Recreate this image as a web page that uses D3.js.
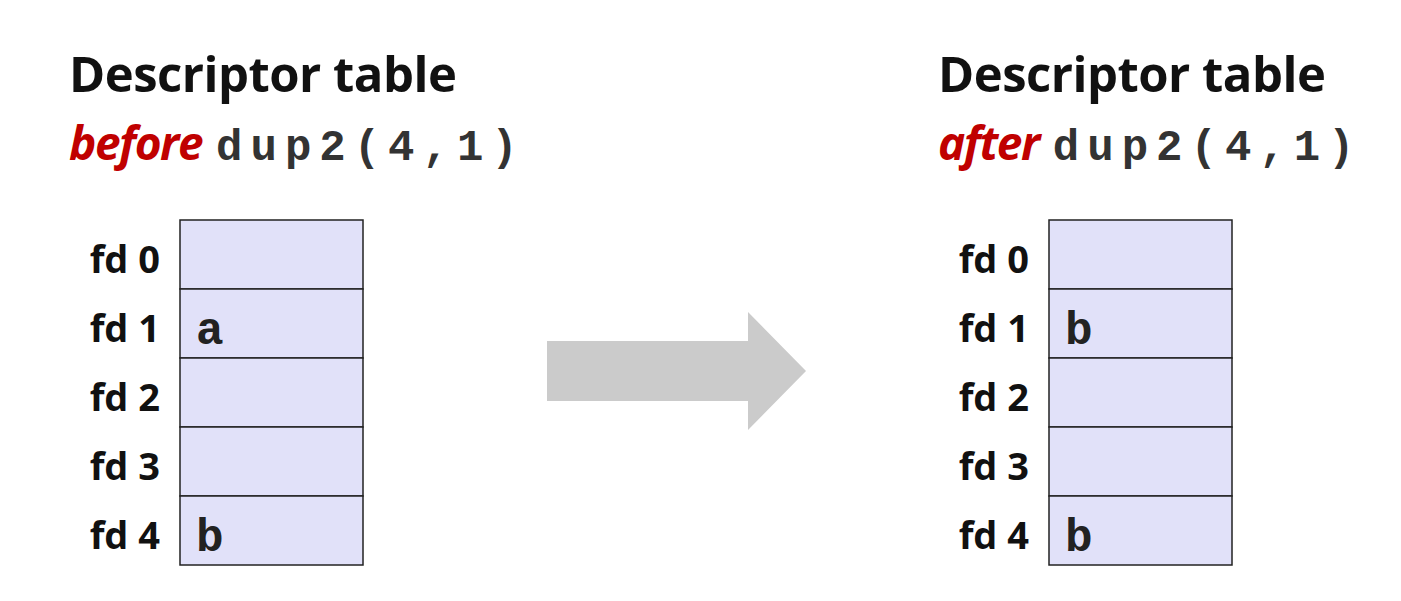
<!DOCTYPE html>
<html><head><meta charset="utf-8">
<script src="https://cdn.jsdelivr.net/npm/d3@7"></script>
<style>body{margin:0;background:#fff}</style>
</head><body>
<svg id="c" width="1401" height="601"></svg>
<script>
// descriptor table rows and contents
var fds = ["fd 0", "fd 1", "fd 2", "fd 3", "fd 4"];
var beforeCells = ["", "a", "", "", "b"];
var afterCells = ["", "b", "", "", "b"];
var tables = [
  {word: "before", cells: beforeCells, x: 180},
  {word: "after", cells: afterCells, x: 1049}
];

var svg = d3.select("#c");
var y = d3.scaleBand().domain(fds).range([220, 565]);
var cellW = 183;

tables.forEach(function(t) {
  var g = svg.append("g");
  var tx = t.x - 111;
  g.append("text").attr("x", tx).attr("y", 92)
    .style("font", "bold 49px 'Open Sans', sans-serif").attr("fill", "#111")
    .attr("letter-spacing", -0.5)
    .text("Descriptor table");
  var line2 = g.append("text").attr("x", tx).attr("y", 160);
  line2.append("tspan").text(t.word)
    .style("font", "italic bold 46px 'Open Sans', sans-serif").attr("fill", "#c00000")
    .attr("letter-spacing", -1.5);
  line2.append("tspan").text("dup2(4,1)").attr("dx", 14)
    .style("font", "bold 44px 'Liberation Mono', monospace").attr("fill", "#333")
    .attr("letter-spacing", 8);

  fds.forEach(function(fd, i) {
    g.append("rect").attr("x", t.x).attr("y", y(fd))
      .attr("width", cellW).attr("height", y.bandwidth())
      .attr("fill", "#e1e1f9").attr("stroke", "#222").attr("stroke-width", 1.5);
    g.append("text").attr("x", t.x - 20).attr("y", y(fd) + y.bandwidth() / 2 + 18)
      .attr("text-anchor", "end")
      .style("font", "bold 38px 'Open Sans', sans-serif").attr("fill", "#111")
      .text(fd);
    if (t.cells[i]) {
      g.append("text").attr("x", t.x + 16).attr("y", y(fd) + y.bandwidth() / 2 + 20)
        .style("font", "bold 46px 'Liberation Mono', monospace").attr("fill", "#222")
        .text(t.cells[i]);
    }
  });
});

// big grey arrow
svg.append("path")
  .attr("d", "M547,341 L748,341 L748,312 L806,371 L748,430 L748,401 L547,401 Z")
  .attr("fill", "#cbcbcb");
</script>
</body></html>
